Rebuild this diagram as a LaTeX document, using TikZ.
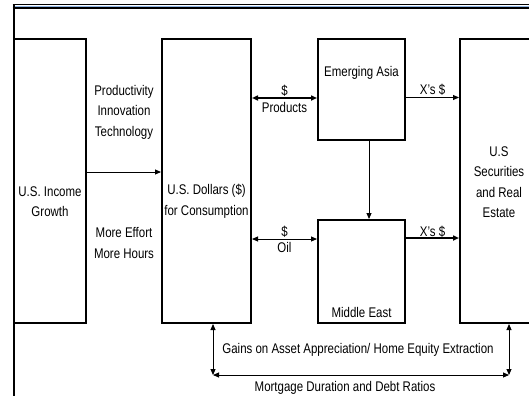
\documentclass[tikz,border=0pt]{standalone}
\usepackage{fontspec}
\setmainfont{Liberation Sans}[FakeStretch=0.82]
\usetikzlibrary{arrows.meta}
\definecolor{rulebl}{HTML}{8EB4E3}
\newcommand\diafont{\fontsize{14pt}{20.5pt}\selectfont}

\begin{document}
\begin{tikzpicture}[x=1pt, y=-1pt,
    box/.style={draw, line width=2pt, inner sep=0pt},
    flow/.style={-{Triangle[length=6pt, width=5pt]}, line width=0.9pt},
    dflow/.style={{Triangle[length=6pt, width=5pt]}-{Triangle[length=6pt, width=5pt]}, line width=0.9pt},
    txt/.style={font=\diafont, align=center, inner sep=1pt},
]
    \clip (0,0) rectangle (529,396);

    % frame
    \draw[line width=1pt] (12.5,5) -- (529,5);
    \draw[rulebl, line width=1.4pt] (14.5,6.6) -- (529,6.6);
    \draw[line width=2pt] (12.5,8.5) -- (529,8.5);
    \draw[line width=2pt] (13.5,4.5) -- (13.5,396);

    % boxes
    \node[box, minimum width=72.5pt, minimum height=284pt] (inc) at (49.75,181) {};
    \node[box, minimum width=89pt, minimum height=284pt] (usd) at (206.5,181) {};
    \node[box, minimum width=87pt, minimum height=101pt] (asia) at (361.5,89.5) {};
    \node[box, minimum width=87pt, minimum height=103pt] (mide) at (361.5,271.5) {};
    \node[box, minimum width=85pt, minimum height=284pt] (sec) at (502.5,181) {};

    \node[txt] at (50,201.5) {U.S. Income\\Growth};
    \node[txt] at (206.5,201.5) {U.S. Dollars (\$)\\for Consumption};
    \node[txt] at (361.5,73) {Emerging Asia};
    \node[txt] at (361.5,312) {Middle East};
    \node[txt] at (499,182) {U.S\\Securities\\and Real\\Estate};

    % flows
    \draw[flow] ([yshift=9pt]inc.east) -- ([yshift=9pt]inc.east -| usd.west);
    \node[txt] at (124,112) {Productivity\\Innovation\\Technology};
    \node[txt] at (124,243) {More Effort\\More Hours};

    \draw[dflow, line width=2pt] ([yshift=-8.5pt]asia.west -| usd.east) -- ([yshift=-8.5pt]asia.west)
        node[txt, midway, above] {\$} node[txt, midway, below, inner sep=3.5pt] {Products};
    \draw[flow] ([yshift=-8pt]asia.east) -- ([yshift=-8pt]asia.east -| sec.west)
        node[txt, midway, above, inner sep=2pt] {X's \$};
    \draw[flow] ([xshift=7.5pt]asia.south) -- ([xshift=7.5pt]asia.south |- mide.north);
    \draw[dflow] ([yshift=32.5pt]mide.west -| usd.east) -- ([yshift=32.5pt]mide.west)
        node[txt, midway, above] {\$} node[txt, midway, below, inner sep=3pt] {Oil};
    \draw[flow, line width=2pt] ([yshift=33.5pt]mide.east) -- ([yshift=33.5pt]mide.east -| sec.west)
        node[txt, midway, above, inner sep=0pt] {X's \$};

    % bottom
    \coordinate (bl) at (213,375);
    \coordinate (br) at (509,375);
    \draw[dflow] ([xshift=6.5pt]usd.south) -- (bl);
    \draw[dflow] ([xshift=6.5pt]sec.south) -- (br);
    \draw[dflow] (bl) -- (br);
    \node[txt] at (358,350) {Gains on Asset Appreciation/ Home Equity Extraction};
    \node[txt] at (345,387.5) {Mortgage Duration and Debt Ratios};
\end{tikzpicture}
\end{document}
